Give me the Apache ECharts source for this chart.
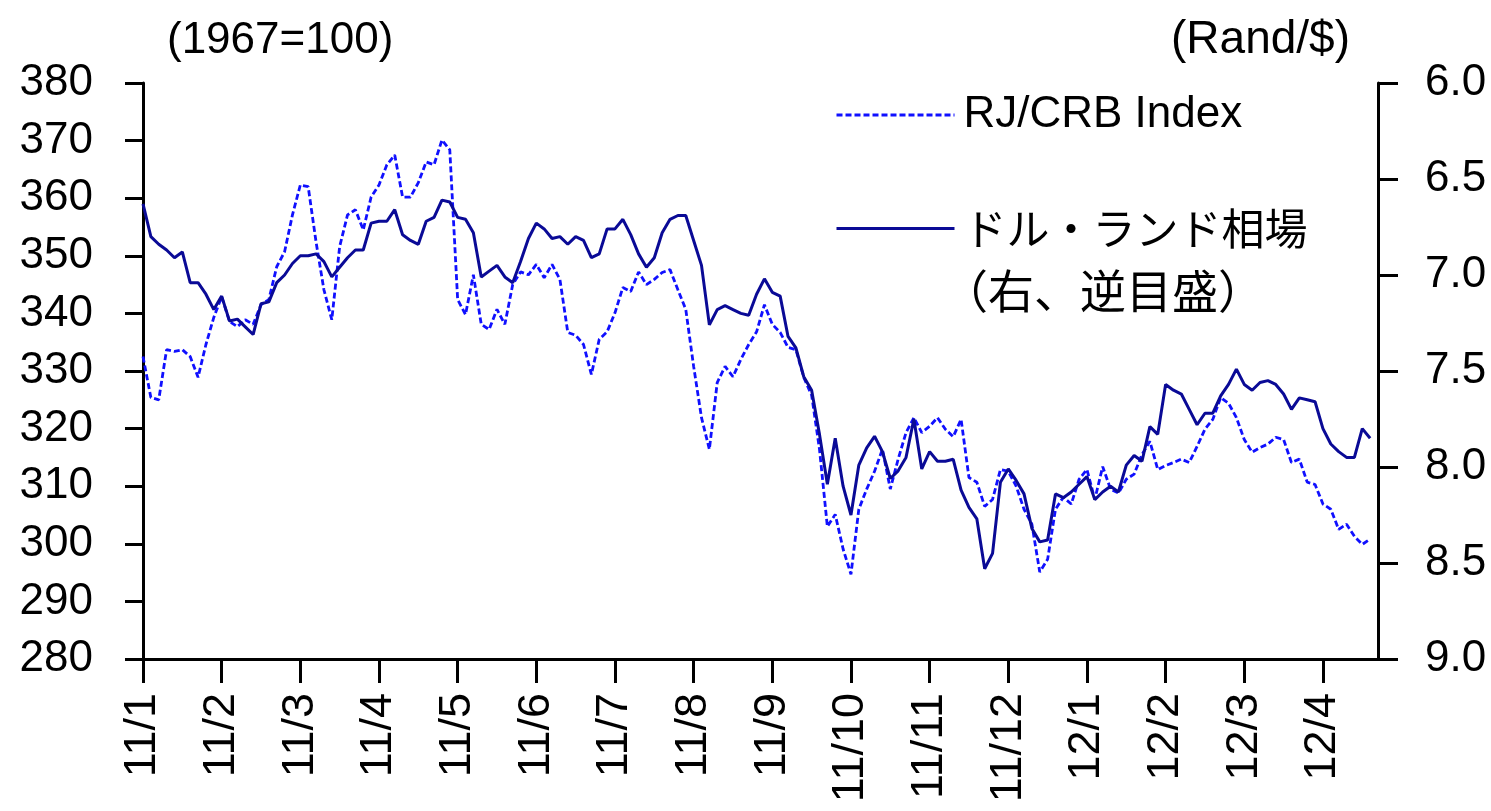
<!DOCTYPE html>
<html>
<head>
<meta charset="utf-8">
<title>RJ/CRB Index とドル・ランド相場</title>
<script src="https://cdn.jsdelivr.net/npm/echarts@6/dist/echarts.min.js"></script>
<style>
  html, body { margin: 0; padding: 0; background: #fff; }
  #chart { width: 1491px; height: 811px; }
</style>
</head>
<body>
<div id="chart"></div>
<script>
// x axis: one label per month, 10 slots per month, a short tail after 12/4
const months = ['11/1', '11/2', '11/3', '11/4', '11/5', '11/6', '11/7', '11/8',
  '11/9', '11/10', '11/11', '11/12', '12/1', '12/2', '12/3', '12/4'];
const perMonth = 10;
const tailSlots = 7;

// RJ/CRB Index (1967=100), left axis
const crb = [
  332.5, 325.4, 325.0, 333.7, 333.4, 333.7, 332.5, 328.9, 334.6, 339.3,
  342.9, 338.6, 337.7, 338.9, 338.1, 341.5, 342.4, 348.1, 350.7, 357.1,
  362.3, 362.0, 352.4, 344.1, 338.9, 351.6, 357.1, 358.0, 354.5, 360.2,
  362.3, 365.8, 367.5, 360.2, 360.2, 362.7, 366.3, 365.8, 370.1, 368.4,
  342.4, 339.8, 346.7, 338.1, 337.2, 340.7, 338.1, 345.0, 347.2, 346.7,
  348.5, 346.2, 348.5, 345.9, 336.7, 336.2, 334.6, 329.4, 335.5, 336.8,
  340.1, 344.5, 343.8, 347.2, 345.0, 345.9, 347.1, 347.6, 344.1, 340.7,
  330.8, 321.9, 316.4, 328.0, 330.8, 329.0, 332.0, 334.6, 336.8, 341.5,
  338.1, 336.7, 334.1, 333.7, 328.9, 325.8, 316.4, 303.0, 305.1, 299.1,
  294.7, 306.0, 309.5, 312.6, 316.4, 309.5, 314.7, 319.3, 321.9, 319.3,
  320.4, 321.9, 319.9, 318.6, 321.6, 311.5, 310.7, 306.5, 307.7, 312.9,
  312.6, 310.0, 306.0, 303.4, 295.1, 297.3, 306.0, 308.1, 306.9, 311.2,
  312.9, 307.7, 313.4, 309.5, 308.8, 311.2, 312.1, 315.5, 317.8, 312.9,
  313.6, 314.1, 314.7, 314.1, 316.9, 319.9, 321.6, 325.4, 324.4, 321.9,
  318.1, 315.9, 316.7, 317.3, 318.5, 318.1, 314.1, 314.7, 310.7, 310.3,
  306.9, 306.0, 302.5, 303.4, 301.3, 299.9, 300.8
];

// Rand per dollar, right axis (inverted)
const rand = [
  6.63, 6.80, 6.84, 6.87, 6.91, 6.88, 7.04, 7.04, 7.10, 7.18,
  7.11, 7.24, 7.23, 7.27, 7.31, 7.15, 7.14, 7.04, 7.00, 6.94,
  6.90, 6.90, 6.89, 6.93, 7.01, 6.96, 6.91, 6.87, 6.87, 6.73,
  6.72, 6.72, 6.66, 6.79, 6.82, 6.84, 6.72, 6.70, 6.61, 6.62,
  6.70, 6.71, 6.78, 7.01, 6.98, 6.95, 7.01, 7.04, 6.93, 6.81,
  6.73, 6.76, 6.81, 6.80, 6.84, 6.80, 6.82, 6.91, 6.89, 6.76,
  6.76, 6.71, 6.79, 6.89, 6.96, 6.91, 6.78, 6.71, 6.69, 6.69,
  6.82, 6.95, 7.26, 7.18, 7.16, 7.18, 7.20, 7.21, 7.10, 7.02,
  7.09, 7.11, 7.32, 7.38, 7.53, 7.60, 7.83, 8.09, 7.85, 8.10,
  8.25, 7.99, 7.90, 7.84, 7.92, 8.06, 8.02, 7.95, 7.75, 8.01,
  7.92, 7.97, 7.97, 7.96, 8.12, 8.21, 8.27, 8.53, 8.45, 8.08,
  8.01, 8.07, 8.14, 8.32, 8.39, 8.38, 8.14, 8.16, 8.13, 8.09,
  8.05, 8.17, 8.13, 8.10, 8.13, 7.99, 7.94, 7.97, 7.79, 7.83,
  7.57, 7.60, 7.62, 7.70, 7.78, 7.72, 7.72, 7.63, 7.57, 7.49,
  7.57, 7.60, 7.56, 7.55, 7.57, 7.62, 7.70, 7.64, 7.65, 7.66,
  7.80, 7.88, 7.92, 7.95, 7.95, 7.80, 7.85
];

const crbName = 'RJ/CRB Index';
const randName = 'ドル・ランド相場';
const randNote = '（右、逆目盛）';

// category list: month label at the first slot, hidden ids elsewhere
const categories = [];
months.forEach(function (m, mi) {
  const slots = mi === months.length - 1 ? tailSlots + 1 : perMonth;
  for (let k = 0; k < slots; k++) {
    categories.push(k === 0 ? m : m + '.' + k);
  }
});
const isMonthStart = function (idx, val) {
  return String(val).indexOf('.') < 0;
};

const latin = '"Liberation Sans", Arial, sans-serif';
const jp = '"Noto Sans CJK JP", sans-serif';

const myChart = echarts.init(document.getElementById('chart'));

const option = {
  backgroundColor: '#fff',
  animation: false,
  grid: {
    left: 143,
    right: 113,
    top: 83,
    bottom: 152,
  },
  legend: {
    orient: 'vertical',
    left: 830,
    top: 88,
    itemWidth: 118,
    itemHeight: 14,
    itemGap: 70,
    itemStyle: { opacity: 0 },
    lineStyle: { width: 3 },
    textStyle: {
      fontSize: 44,
      color: '#000',
      fontFamily: latin,
      padding: [0, 0, 0, 4],
      rich: {
        jp: { fontSize: 43, fontFamily: jp, color: '#000' },
      },
    },
    formatter: function (name) {
      return name === randName ? '{jp|' + name + '}' : name;
    },
    data: [crbName, randName],
  },
  graphic: [
    {
      type: 'text',
      left: 942,
      top: 268,
      style: {
        text: randNote,
        font: '46px ' + jp,
        fill: '#000',
      },
    },
  ],
  xAxis: {
    type: 'category',
    boundaryGap: false,
    data: categories,
    axisLine: { lineStyle: { color: '#000', width: 3 } },
    axisTick: {
      interval: isMonthStart,
      length: 24,
      lineStyle: { color: '#000', width: 3 },
    },
    axisLabel: {
      interval: isMonthStart,
      rotate: 90,
      margin: 34,
      fontSize: 45,
      color: '#000',
      fontFamily: latin,
    },
    splitLine: { show: false },
  },
  yAxis: [
    {
      type: 'value',
      position: 'left',
      min: 280,
      max: 380,
      interval: 10,
      name: '(1967=100)',
      nameLocation: 'end',
      nameGap: 20,
      nameTextStyle: {
        fontSize: 44,
        color: '#000',
        fontFamily: latin,
        align: 'left',
        padding: [0, 0, 0, 24],
      },
      axisLine: { show: true, lineStyle: { color: '#000', width: 3 } },
      axisTick: { show: true, length: 18, lineStyle: { color: '#000', width: 3 } },
      axisLabel: { margin: 50, fontSize: 44, color: '#000', fontFamily: latin },
      splitLine: { show: false },
    },
    {
      type: 'value',
      position: 'right',
      inverse: true,
      min: 6,
      max: 9,
      interval: 0.5,
      name: '(Rand/$)',
      nameLocation: 'start',
      nameGap: 20,
      nameTextStyle: {
        fontSize: 46,
        color: '#000',
        fontFamily: latin,
        align: 'right',
        padding: [0, 28, 0, 0],
      },
      axisLine: { show: true, lineStyle: { color: '#000', width: 3 } },
      axisTick: { show: true, length: 20, lineStyle: { color: '#000', width: 3 } },
      axisLabel: {
        margin: 47,
        fontSize: 44,
        color: '#000',
        fontFamily: latin,
        formatter: function (v) { return v.toFixed(1); },
      },
      splitLine: { show: false },
    },
  ],
  series: [
    {
      name: crbName,
      type: 'line',
      yAxisIndex: 0,
      data: crb,
      symbol: 'none',
      lineStyle: { color: '#1010ff', width: 2.8, type: [6, 3] },
      itemStyle: { color: '#1010ff' },
    },
    {
      name: randName,
      type: 'line',
      yAxisIndex: 1,
      data: rand,
      symbol: 'none',
      lineStyle: { color: '#0a0a96', width: 3 },
      itemStyle: { color: '#0a0a96' },
    },
  ],
};
myChart.setOption(option);
</script>
</body>
</html>
